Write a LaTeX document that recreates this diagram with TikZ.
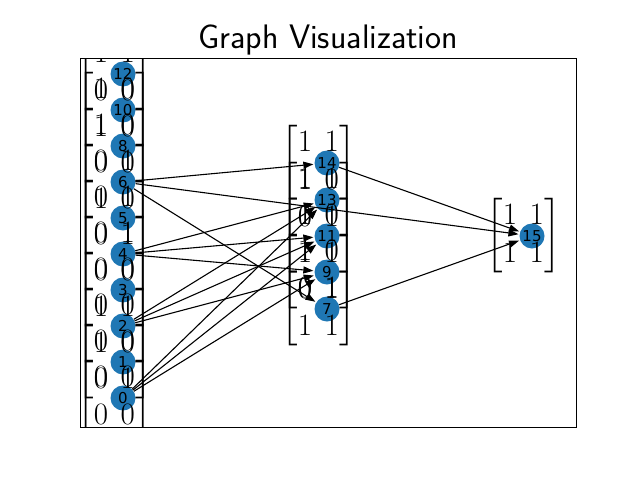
\documentclass[tikz,border=0pt]{standalone}
\usepackage{amsmath}
\usepackage{graphicx}
\usepackage{fontspec}
\newfontfamily\lblfont{DejaVu Sans}
\usetikzlibrary{arrows.meta}
\definecolor{nodeblue}{HTML}{1F77B4}
\tikzset{
  vtx/.style={circle, fill=nodeblue, minimum size=25pt, inner sep=0pt,
              font=\lblfont\fontsize{15}{15}\selectfont},
  mtx/.style={inner sep=0pt, font=\fontsize{24.88}{30}\selectfont},
  edge/.style={-{Triangle[length=10pt,width=7pt]}, line width=1.1pt, shorten >=1pt}
}
\newcommand{\bmat}[4]{\scalebox{1.25}{$\begin{bmatrix}#1&#2\\#3&#4\end{bmatrix}$}}
\begin{document}
\begin{tikzpicture}[x=1pt, y=-1pt]
  \useasboundingbox (0,0) rectangle (640,480);
  % --- axes frame and title ---
  \node[font=\sffamily\fontsize{34}{38}\selectfont, anchor=base] (title) at (328,48) {Graph Visualization};
  \draw[line width=0.9pt] (80,58) rectangle (576,427);

  % --- nodes: first layer ---
  \foreach \n/\y in {12/74, 10/110, 8/146, 6/182, 5/218, 4/254, 3/290, 2/326, 1/362, 0/398} {
    \node[vtx] (n\n) at (123,\y) {\n};
  }
  % --- second layer ---
  \foreach \n/\y in {14/163, 13/200, 11/236, 9/272, 7/309} {
    \node[vtx] (n\n) at (327,\y) {\n};
  }
  % --- last layer ---
  \node[vtx] (n15) at (532,236) {15};

  % --- edges ---
  \foreach \a/\b in {6/14, 6/15, 6/7, 4/13, 4/11, 4/9, 2/13, 2/11, 2/9, 0/13, 0/11, 0/9, 14/15, 7/15} {
    \draw[edge] (n\a) -- (n\b);
  }

  % --- matrix labels (clipped to axes) ---
  \begin{scope}
    \clip (80,58) rectangle (576,427);
    \foreach \n/\x/\y/\a/\b/\c/\d in {
        12/123/74/1/1/0/0, 10/123/110/1/0/1/0, 8/123/146/1/0/0/0,
        6/123/182/0/1/1/0, 5/123/218/0/1/0/1, 4/123/254/0/1/0/0,
        3/123/290/0/0/1/1, 2/123/326/0/0/1/0, 1/123/362/0/0/0/1,
        0/123/398/0/0/0/0,
        14/327/163/1/1/1/0, 13/327/200/1/1/0/1, 11/327/236/1/0/1/1,
        9/327/272/1/0/0/1, 7/327/309/0/1/1/1, 15/532/236/1/1/1/1} {
      \node[mtx] (m\n) at (\x-8.5,\y) {\bmat{\a}{\b}{\c}{\d}};
    }
  \end{scope}
\end{tikzpicture}
\end{document}
